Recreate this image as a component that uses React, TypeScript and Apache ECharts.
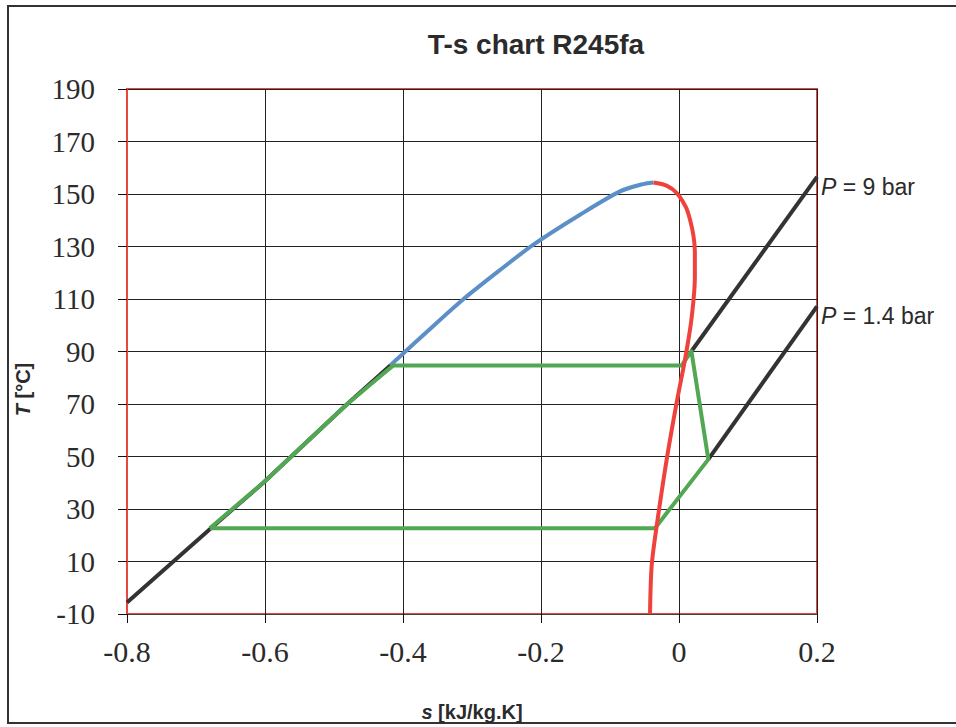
import React, { useEffect, useRef } from "react";
import * as echarts from "echarts";

// Saturated liquid line (black part, partly hidden under the cycle)
const liquidLine: [number, number][] = [
  [-0.8, -5.6],
  [-0.68, 22.3],
  [-0.6025, 40],
  [-0.4816, 69.8],
  [-0.433, 81.2],
  [-0.418, 84.8],
];
// Saturated liquid line near the critical point (blue)
const liquidUpper: [number, number][] = [
  [-0.418, 84.8],
  [-0.404, 88.2],
  [-0.36, 98.8],
  [-0.313, 109.8],
  [-0.262, 120.5],
  [-0.211, 130.7],
  [-0.1435, 142.1],
  [-0.0855, 151],
  [-0.055, 153.6],
  [-0.037, 154.4],
];
// Saturated vapour line (red)
const vapourLine: [number, number][] = [
  [-0.037, 154.4],
  [-0.018, 153.2],
  [-0.003, 150.3],
  [0.01, 145],
  [0.016, 140.2],
  [0.021, 134],
  [0.023, 128],
  [0.023, 118.6],
  [0.018, 102.2],
  [0.0087, 87],
  [-0.0034, 70.5],
  [-0.0178, 48.9],
  [-0.0323, 23.6],
  [-0.0396, 8.4],
  [-0.042, -10],
];
// ORC cycle (green)
const cycle: [number, number][] = [
  [-0.68, 22.7],
  [-0.6025, 40],
  [-0.4816, 69.8],
  [-0.433, 80.6],
  [-0.414, 84.7],
  [0.004, 84.7],
  [0.018, 90.1],
  [0.0425, 48.9],
  [-0.0348, 22.7],
  [-0.68, 22.7],
];
// Isobars in the superheated region
const isobar9: [number, number][] = [
  [0.018, 90.1],
  [0.2, 156.5],
];
const isobar14: [number, number][] = [
  [0.0425, 48.9],
  [0.2, 107.2],
];
const isobarLabels = ["{i|P} = 9 bar", "{i|P} = 1.4 bar"];
const chartTitle = "T-s chart R245fa";

const SANS = "'Liberation Sans', Arial, Helvetica, sans-serif";
const SERIF = "'Liberation Serif', 'Times New Roman', Times, serif";
const TXT = "#2b2b2b";

export default function App() {
  const ref = useRef<HTMLDivElement>(null);
  useEffect(() => {
    if (!ref.current) return;
    const chart = echarts.init(ref.current, undefined, { renderer: "svg" });
    const lineBase = {
      type: "line" as const,
      showSymbol: false,
      symbol: "none",
      silent: true,
    };
    const endLabel = (text: string) => ({
      show: true,
      formatter: text,
      color: TXT,
      fontFamily: SANS,
      fontSize: 23,
      distance: 4,
      offset: [0, 10],
      rich: {
        i: { fontStyle: "italic", fontFamily: SANS, fontSize: 23, color: TXT },
      },
    });
    chart.setOption({
      animation: false,
      backgroundColor: "#ffffff",
      grid: {
        left: 127,
        top: 89,
        width: 690,
        height: 526,
        show: true,
        borderColor: "#e8453e",
        borderWidth: 2,
        backgroundColor: "transparent",
      },
      graphic: [
        {
          type: "rect",
          silent: true,
          z: -10,
          shape: { x: 8, y: 6, width: 990, height: 717 },
          style: { fill: "none", stroke: "#333", lineWidth: 2 },
        },
        {
          type: "text",
          x: 536,
          y: 44,
          style: {
            text: chartTitle,
            fontFamily: SANS,
            fontSize: 28,
            fontWeight: "bold",
            fill: TXT,
            align: "center",
            verticalAlign: "middle",
          },
        },
      ],
      xAxis: {
        type: "value",
        min: -0.8,
        max: 0.2,
        interval: 0.2,
        name: "{i|s} [kJ/kg.K]",
        nameLocation: "middle",
        nameGap: 88,
        nameTextStyle: {
          fontFamily: SANS,
          fontSize: 20,
          fontWeight: "bold",
          color: TXT,
          rich: {
            i: { fontStyle: "italic", fontWeight: "bold", fontFamily: SANS, fontSize: 20, color: TXT },
          },
        },
        axisLine: { show: true, onZero: false, lineStyle: { color: "#444", width: 1 } },
        axisTick: { show: true, inside: false, length: 9, lineStyle: { color: "#111", width: 1 } },
        axisLabel: {
          margin: 22,
          fontFamily: SERIF,
          fontSize: 30,
          color: TXT,
          formatter: (v: number) => {
            const r = Math.round(v * 10) / 10;
            return r === 0 ? "0" : String(r);
          },
        },
        splitLine: { show: true, lineStyle: { color: "#222", width: 1 } },
      },
      yAxis: {
        type: "value",
        min: -10,
        max: 190,
        interval: 20,
        name: "{i|T} [°C]",
        nameLocation: "middle",
        nameRotate: 90,
        nameGap: 94,
        nameTextStyle: {
          fontFamily: SANS,
          fontSize: 20,
          fontWeight: "bold",
          color: TXT,
          padding: [0, 76, 0, 0],
          rich: {
            i: { fontStyle: "italic", fontWeight: "bold", fontFamily: SANS, fontSize: 20, color: TXT },
          },
        },
        axisLine: { show: true, onZero: false, lineStyle: { color: "#e8453e", width: 2 } },
        axisTick: { show: true, inside: false, length: 9, lineStyle: { color: "#111", width: 1 } },
        axisLabel: {
          margin: 32,
          fontFamily: SERIF,
          fontSize: 29,
          color: TXT,
        },
        splitLine: { show: true, lineStyle: { color: "#222", width: 1 } },
      },
      series: [
        {
          ...lineBase,
          name: "liquid",
          data: liquidLine,
          lineStyle: { color: "#333333", width: 4 },
          z: 2,
        },
        {
          ...lineBase,
          name: "isobar 9 bar",
          data: isobar9,
          lineStyle: { color: "#333333", width: 4 },
          endLabel: endLabel(isobarLabels[0]),
          z: 2,
        },
        {
          ...lineBase,
          name: "isobar 1.4 bar",
          data: isobar14,
          lineStyle: { color: "#333333", width: 4 },
          endLabel: endLabel(isobarLabels[1]),
          z: 2,
        },
        {
          ...lineBase,
          name: "liquid upper",
          data: liquidUpper,
          smooth: 0.3,
          lineStyle: { color: "#5a8fc8", width: 4 },
          z: 3,
        },
        {
          ...lineBase,
          name: "cycle",
          data: cycle,
          lineStyle: { color: "#52a852", width: 4, join: "round" },
          z: 4,
        },
        {
          ...lineBase,
          name: "vapour",
          data: vapourLine,
          smooth: 0.3,
          lineStyle: { color: "#f0423c", width: 4 },
          z: 5,
        },
      ],
    });
    return () => chart.dispose();
  }, []);
  return (
    <div
      ref={ref}
      style={{ position: "absolute", left: 0, top: 0, width: 956, height: 727, background: "#fff" }}
    />
  );
}
